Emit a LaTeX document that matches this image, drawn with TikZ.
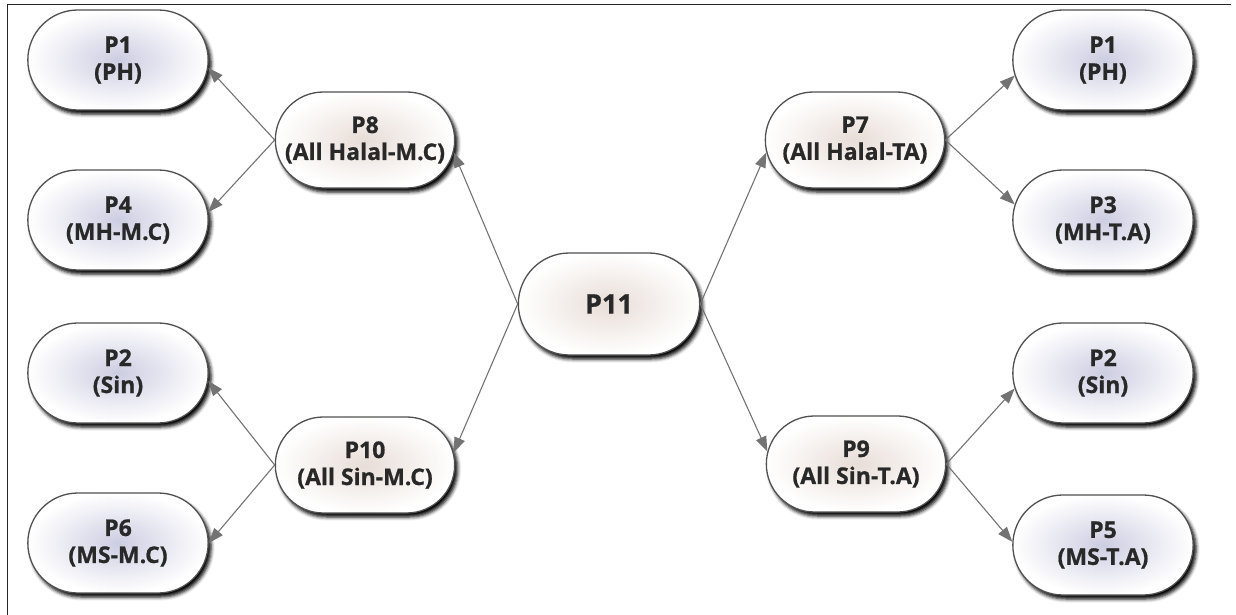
\documentclass[tikz,border=0pt]{standalone}
\usepackage{fontspec}
\setmainfont{Open Sans}[BoldFeatures={FakeBold=0.8}]
\usetikzlibrary{shapes.misc,arrows.meta,shadows.blur}
\definecolor{leafc}{RGB}{205,205,226}
\definecolor{midc}{RGB}{232,221,215}
\definecolor{txt}{RGB}{40,40,40}
\definecolor{edge}{RGB}{80,80,80}
\definecolor{arrc}{RGB}{115,115,115}
\tikzset{
  pnode/.style={rounded rectangle, draw=edge, line width=1.3pt, outer color=white,
    align=center, text=txt, font=\bfseries\fontsize{23}{27}\selectfont,
    blur shadow={shadow xshift=3pt, shadow yshift=-4pt, shadow blur radius=3.5pt, shadow opacity=100}},
  leaf/.style={pnode, inner color=leafc, minimum width=187pt, minimum height=100pt},
  mid/.style={pnode, inner color=midc, minimum width=186pt, minimum height=96pt},
  center/.style={pnode, inner color=midc, minimum width=188pt, minimum height=102pt,
    font=\bfseries\fontsize{27}{32}\selectfont},
  arr/.style={draw=arrc, line width=1.1pt, -{Triangle[length=15pt,width=11pt,fill=arrc]}}
}
\begin{document}
\begin{tikzpicture}[x=1pt,y=-1pt]
\useasboundingbox (0,0) rectangle (1236,615);
\draw[black!85, line width=1pt] (7,615) -- (7,5) -- (1231,5);
% left leaves
\node[leaf] (L1) at (118,60) {P1\\(PH)};
\node[leaf] (L4) at (118,220) {P4\\(MH-M.C)};
\node[leaf] (L2) at (118,373) {P2\\(Sin)};
\node[leaf] (L6) at (118,543) {P6\\(MS-M.C)};
% left mids
\node[mid] (M8) at (365,140) {P8\\(All Halal-M.C)};
\node[mid] (M10) at (365,465) {P10\\(All Sin-M.C)};
% center
\node[center] (C11) at (609,304) {P11};
% right mids
\node[mid] (M7) at (855,140) {P7\\(All Halal-TA)};
\node[mid] (M9) at (856,464) {P9\\(All Sin-T.A)};
% right leaves
\node[leaf] (R1) at (1103,60) {P1\\(PH)};
\node[leaf] (R3) at (1103,220) {P3\\(MH-T.A)};
\node[leaf] (R2) at (1103,373) {P2\\(Sin)};
\node[leaf] (R5) at (1103,545) {P5\\(MS-T.A)};
% connectors
\draw[arr] (M8.west) -- (L1.355);
\draw[arr] (M8.west) -- (L4.5);
\draw[arr] (M10.west) -- (L2.355);
\draw[arr] (M10.west) -- (L6.0);
\draw[arr] (C11.west) -- (M8.352);
\draw[arr] (C11.west) -- (M10.8);
\draw[arr] (C11.east) -- (M7.188);
\draw[arr] (C11.east) -- (M9.172);
\draw[arr] (M7.east) -- (R1.190);
\draw[arr] (M7.east) -- (R3.170);
\draw[arr] (M9.east) -- (R2.190);
\draw[arr] (M9.east) -- (R5.178);
\end{tikzpicture}
\end{document}
